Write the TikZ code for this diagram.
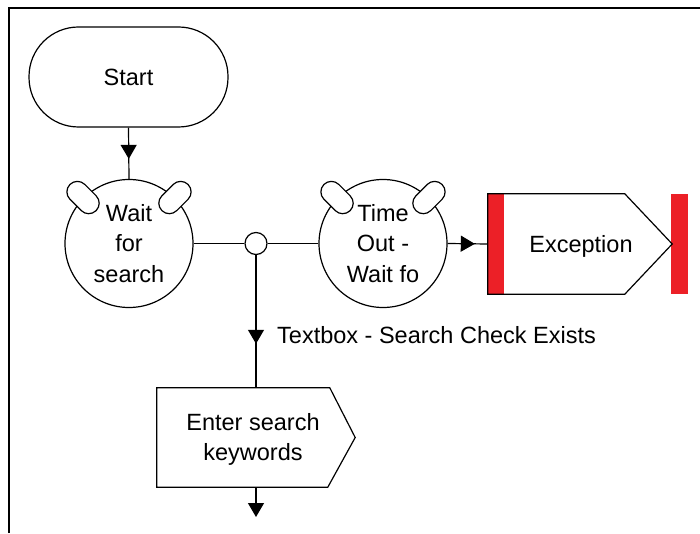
\documentclass[tikz,border=0pt]{standalone}
\usepackage{fontspec}
\setmainfont{Liberation Sans}
\usetikzlibrary{arrows.meta,decorations.markings,calc}
\definecolor{exred}{RGB}{236,32,39}
\begin{document}
\begin{tikzpicture}[x=1pt,y=1pt,
  every node/.style={font=\fontsize{23.5}{30.5}\selectfont, align=center, inner sep=0pt},
  shp/.style={draw, line width=1.2pt, fill=white},
  conn/.style={line width=1.2pt},
  endtip/.style={-{Triangle[length=14pt,width=16pt]}},
  arrowat/.style={postaction={decorate}, decoration={markings, mark=at position #1 with {\arrow{Triangle[length=14pt,width=16pt]}}}},
  ear/.style={draw, line width=1.2pt, fill=white, rounded corners=10.5pt, minimum width=37pt, minimum height=21pt, inner sep=0pt},
]
\useasboundingbox (0,0) rectangle (700,533);
\draw[line width=2pt] (9,0) -- (9,525) -- (700,525);

% nodes
\node[shp, rounded corners=49.5pt, minimum width=199pt, minimum height=100pt] (start) at (128.5,456) {Start};
\node[shp, circle, minimum size=128pt] (wait) at (129,289.5) {Wait\\for\\search};
\node[shp, circle, minimum size=22pt] (junc) at (256,289.5) {};
\node[shp, circle, minimum size=128pt] (tout) at (383,289.5) {Time\\Out -\\Wait fo};
\node[minimum width=184pt, minimum height=100pt] (exc) at (580,289) {};
\node[minimum width=198pt, minimum height=99pt] (enter) at (256,95.5) {};
\coordinate (endpt) at (256,16);

% exception shape
\fill[white] (exc.south west) -- (exc.north west) -- ($(exc.north west)+(137,0)$) -- (exc.east) -- ($(exc.south west)+(137,0)$) -- cycle;
\fill[exred] (exc.south west) rectangle ++(16,100);
\fill[exred] ($(exc.south east)+(-1,0)$) rectangle ++(17,100);
\draw[line width=1.2pt] (exc.south west) -- (exc.north west) -- ($(exc.north west)+(137,0)$) -- (exc.east) -- ($(exc.south west)+(137,0)$) -- cycle;
\node (exctext) at (581,286.5) {Exception};

% enter shape
\draw[shp] (enter.south west) -- (enter.north west) -- ($(enter.north west)+(173,0)$) -- (enter.east) -- ($(enter.south west)+(171,0)$) -- cycle;
\node (entertext) at (253,93.5) {Enter search\\keywords};

% ears
\node[ear, rotate=-45] (waitL) at ($(wait.center)+(135:65)$) {};
\node[ear, rotate=45] (waitR) at ($(wait.center)+(45:65)$) {};
\node[ear, rotate=-45] (toutL) at ($(tout.center)+(135:65)$) {};
\node[ear, rotate=45] (toutR) at ($(tout.center)+(45:65)$) {};

% connectors
\draw[conn, arrowat=-20pt] (start.south) -- (wait.north);
\draw[conn] (wait.east) -- (junc.west);
\draw[conn] (junc.east) -- (tout.west);
\draw[conn, arrowat=-44pt] (junc.south) -- (enter.north);
\draw[conn, arrowat=-13pt] (tout.east) -- (exc.west);
\draw[conn, endtip] (enter.south) -- (endpt);

\node[anchor=west] (lbl) at (277,198) {Textbox - Search Check Exists};
\end{tikzpicture}
\end{document}
